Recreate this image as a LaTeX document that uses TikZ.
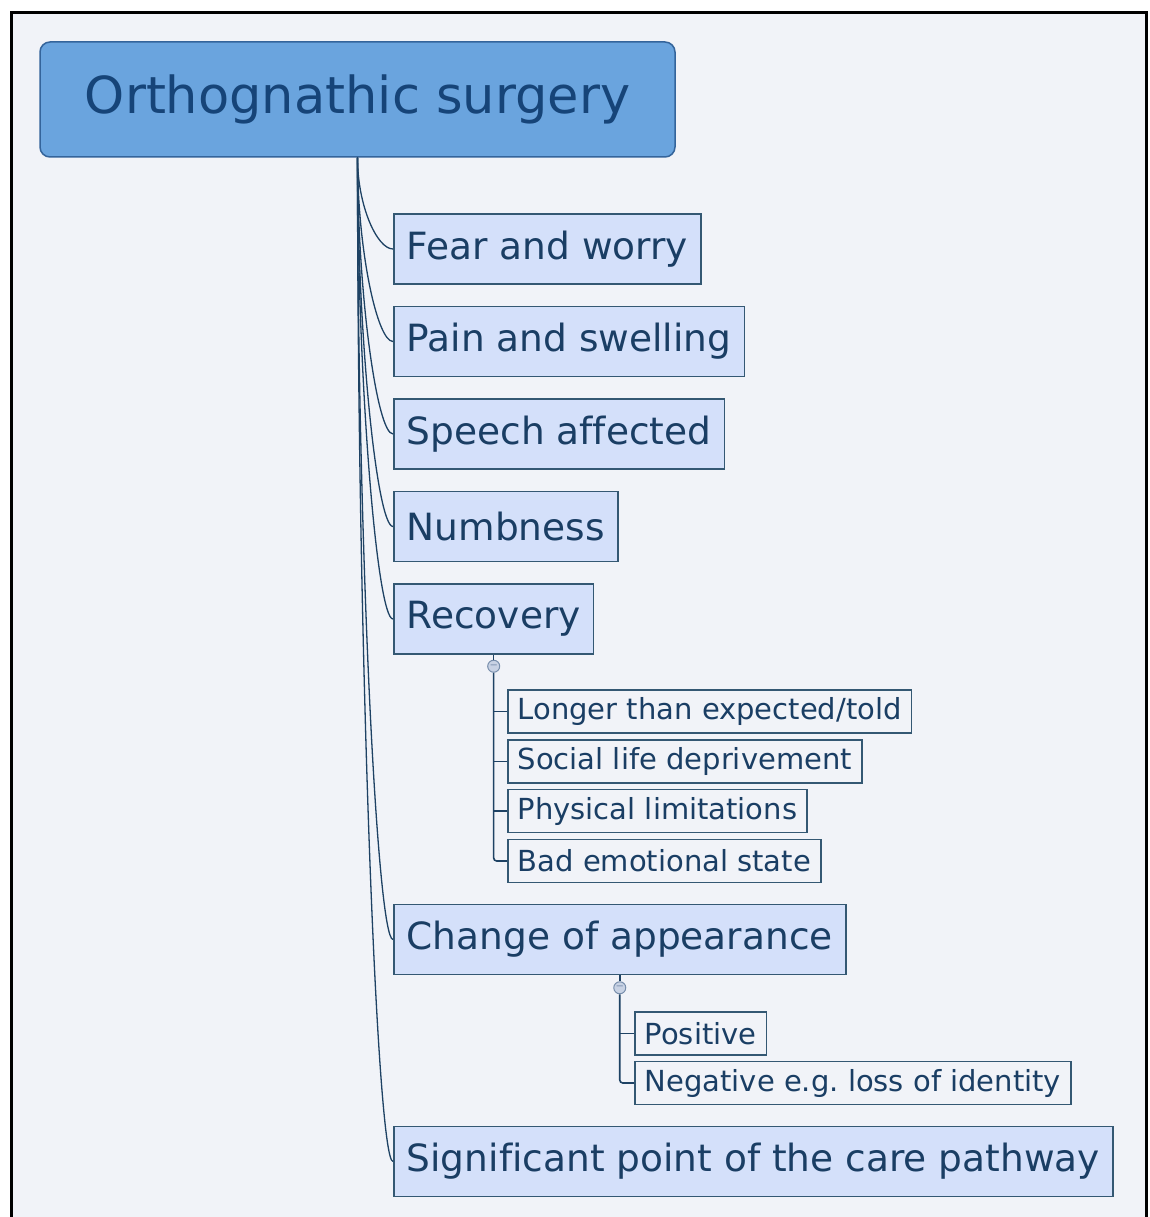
\documentclass[tikz,border=0pt]{standalone}
\usepackage{fontspec}
\setmainfont{DejaVu Sans}[Ligatures={NoCommon}]
\usetikzlibrary{positioning}

\definecolor{pagebg}{RGB}{241,243,248}
\definecolor{rootfill}{RGB}{106,164,222}
\definecolor{rootline}{RGB}{52,100,155}
\definecolor{roottext}{RGB}{22,68,120}
\definecolor{topicfill}{RGB}{212,224,250}
\definecolor{topicline}{RGB}{52,88,115}
\definecolor{topictext}{RGB}{26,62,100}
\definecolor{linkblue}{RGB}{30,66,100}
\definecolor{foldfill}{RGB}{200,210,228}
\definecolor{foldline}{RGB}{120,142,172}

\begin{document}
\begin{tikzpicture}[
                x=1pt, y=-1pt,
                rootbox/.style={draw=rootline, line width=1.5pt, rounded corners=10pt, fill=rootfill,
                                minimum width=635pt, minimum height=115pt,
                                font=\fontsize{51}{60}\selectfont, text=roottext},
                topic/.style={draw=topicline, line width=1.5pt, fill=topicfill, anchor=west,
                              inner xsep=13pt, minimum height=70pt,
                              font=\fontsize{37.5}{45}\selectfont, text=topictext},
                subtopic/.style={draw=topicline, line width=1.5pt, fill=pagebg, anchor=west,
                                 inner xsep=10pt, minimum height=43pt,
                                 font=\fontsize{29}{35}\selectfont, text=topictext},
                fold/.style={circle, draw=foldline, fill=foldfill, line width=1pt,
                             minimum size=12pt, inner sep=0pt,
                             font=\fontsize{10}{10}\selectfont, text=foldline},
                branch/.style={draw=linkblue, line width=1.3pt},
                curvy/.style={out=-90, in=180, out looseness=1.25, in distance=16pt},
                twig/.style={draw=linkblue, line width=1.6pt, rounded corners=3pt}
            ]
                \useasboundingbox (0,0) rectangle (1149,1217);
                \fill[white] (0,0) rectangle (1149,1217);
                \fill[pagebg] (11,13) rectangle (1146,1217);
                \draw[line width=3pt] (11,1217) -- (11,13) -- (1146,13) -- (1146,1217);

                \node[rootbox] (root) at (357.5,99.5) {Orthognathic surgery};

                \node[topic] (fear) at (393,249) {Fear and worry};
                \node[topic, below=21pt of fear.south west, anchor=north west] (pain) {Pain and swelling};
                \node[topic, below=21pt of pain.south west, anchor=north west] (speech) {Speech affected};
                \node[topic, below=21pt of speech.south west, anchor=north west] (numb) {Numbness};
                \node[topic, below=21pt of numb.south west, anchor=north west] (recovery) {Recovery};

                \node[subtopic] (longer) at (507,711.5) {Longer than expected/told};
                \node[subtopic, below=5.5pt of longer.south west, anchor=north west] (social) {Social life deprivement};
                \node[subtopic, below=5pt of social.south west, anchor=north west] (physical) {Physical limitations};
                \node[subtopic, below=5.5pt of physical.south west, anchor=north west] (emotional) {Bad emotional state};

                \node[topic] (change) at (393,939.5) {Change of appearance};
                \node[subtopic] (positive) at (634,1033.5) {Positive};
                \node[subtopic, below=5pt of positive.south west, anchor=north west] (negative) {Negative e.g.\ loss of identity};

                \node[topic] (pathway) at (393,1161.5) {Significant point of the care pathway};

                \node[fold, below=5pt of recovery] (recfold) {−};
                \node[fold, below=6pt of change] (chgfold) {−};

                % main branches
                \draw[branch] (root.south) to[curvy] (fear.west);
                \draw[branch] (root.south) to[curvy] (pain.west);
                \draw[branch] (root.south) to[curvy] (speech.west);
                \draw[branch] (root.south) to[curvy] (numb.west);
                \draw[branch] (root.south) to[curvy] (recovery.west);
                \draw[branch] (root.south) to[curvy] (change.west);
                \draw[branch] (root.south) to[curvy] (pathway.west);

                % recovery details
                \draw[twig] (recovery.south) -- (recfold);
                \draw[twig] (recfold) |- (emotional.west);
                \draw[twig] (recfold |- longer.west) -- (longer.west);
                \draw[twig] (recfold |- social.west) -- (social.west);
                \draw[twig] (recfold |- physical.west) -- (physical.west);

                % appearance details
                \draw[twig] (change.south) -- (chgfold);
                \draw[twig] (chgfold) |- (negative.west);
                \draw[twig] (chgfold |- positive.west) -- (positive.west);
            \end{tikzpicture}
\end{document}
